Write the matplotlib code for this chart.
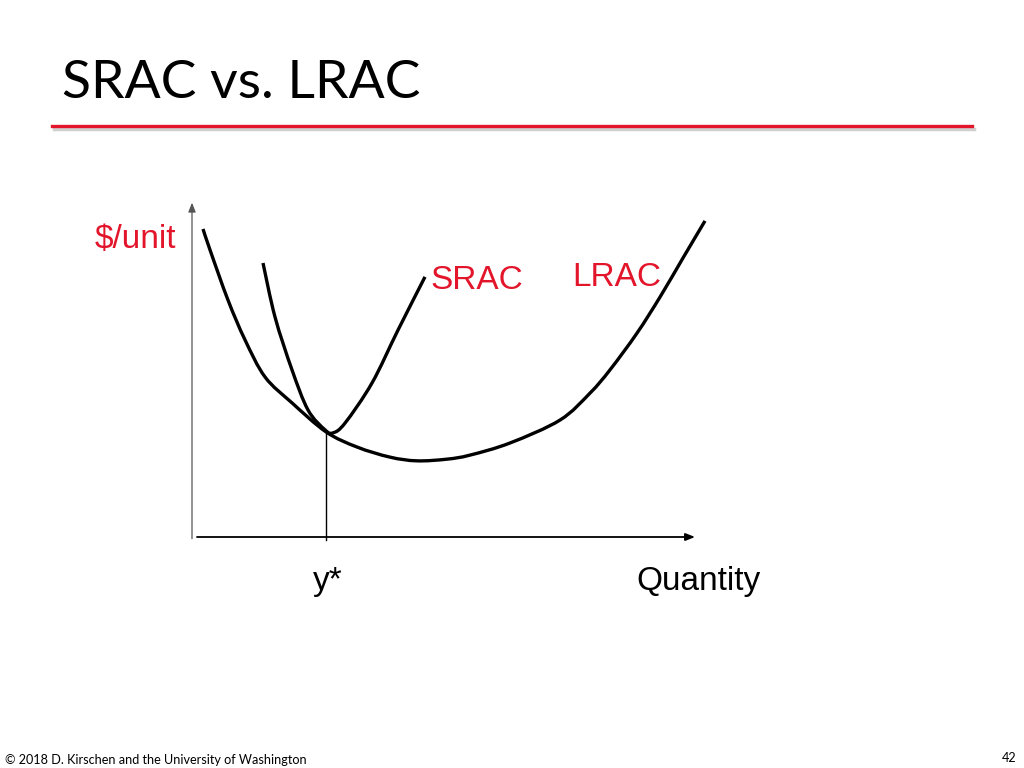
import matplotlib
matplotlib.use("Agg")
import matplotlib.pyplot as plt
from matplotlib.path import Path
from matplotlib.patches import PathPatch
from matplotlib.lines import Line2D
import numpy as np

# ---- data (arbitrary units) ----
lrac_q = [0.22, 0.36, 0.72, 1.06, 1.46, 2.00, 2.68, 3.30, 3.96, 4.50,
          5.10, 5.56, 6.36, 7.36, 7.96, 8.36, 8.90, 9.36, 9.82, 10.26]
lrac_cost = [9.14, 8.52, 7.03, 5.85, 4.75, 3.98, 3.12, 2.67, 2.37, 2.26,
             2.31, 2.43, 2.79, 3.47, 4.27, 4.96, 6.05, 7.12, 8.28, 9.38]
srac_q = [1.42, 1.66, 2.00, 2.32, 2.66, 2.82, 3.06, 3.60, 4.12, 4.66]
srac_cost = [8.13, 6.53, 4.96, 3.77, 3.18, 3.09, 3.38, 4.57, 6.14, 7.72]
y_star = 2.68
y_star_cost = 3.12

title = "SRAC vs. LRAC"
y_label = "$/unit"
x_label = "Quantity"
srac_label = "SRAC"
lrac_label = "LRAC"
ystar_label = "y*"
footer = "\u00a9 2018 D. Kirschen and the University of Washington"
page = "42"

RED = "#e3152b"
W, H = 1024, 768


def fx(px):
    return px / W


def fy(py):
    return 1 - py / H


def smooth_path(xs, ys):
    # cubic Bezier segments through the read points (Catmull-Rom style handles)
    pts = np.column_stack([xs, ys]).astype(float)
    n = len(pts)
    verts = [pts[0]]
    codes = [Path.MOVETO]
    for i in range(n - 1):
        p0 = pts[i - 1] if i > 0 else pts[i]
        p1 = pts[i]
        p2 = pts[i + 1]
        p3 = pts[i + 2] if i + 2 < n else pts[i + 1]
        c1 = p1 + (p2 - p0) / 6.0
        c2 = p2 - (p3 - p1) / 6.0
        verts += [c1, c2, p2]
        codes += [Path.CURVE4] * 3
    return Path(verts, codes)


fig = plt.figure(figsize=(10.24, 7.68), dpi=100)
fig.patch.set_facecolor("white")

# title and red rule with shadow
fig.text(fx(62), fy(98), title, fontsize=38.5, family="Lato",
         color="black", va="baseline", ha="left")
fig.add_artist(Line2D([fx(54), fx(974)], [fy(128.8), fy(128.8)],
                      color="#bbbbbb", lw=2.5, alpha=0.7,
                      transform=fig.transFigure))
fig.add_artist(Line2D([fx(52), fx(972)], [fy(125.5), fy(125.5)],
                      color=RED, lw=2.4, transform=fig.transFigure))

# chart axes: data x 0..10 -> px 192..692, data y 0..10 -> px 537..200
ax = fig.add_axes([fx(192), fy(537), (692 - 192) / W, (537 - 200) / H])
ax.set_xlim(0, 10)
ax.set_ylim(0, 10)
ax.axis("off")

# axes arrows
ax.annotate("", xy=(0, 9.92), xytext=(0, -0.05),
            arrowprops=dict(arrowstyle="-|>,head_length=0.55,head_width=0.22",
                            color="#555555", lw=0.9, shrinkA=0, shrinkB=0),
            annotation_clip=False)
ax.annotate("", xy=(10.06, 0), xytext=(0.1, 0),
            arrowprops=dict(arrowstyle="-|>,head_length=0.55,head_width=0.22",
                            color="black", lw=1.3, shrinkA=0, shrinkB=0),
            annotation_clip=False)

# y* guide line
ax.plot([y_star, y_star], [-0.1, y_star_cost], color="black", lw=1.0,
        clip_on=False)

# curves
for xs, ys in ((lrac_q, lrac_cost), (srac_q, srac_cost)):
    ax.add_patch(PathPatch(smooth_path(xs, ys), fill=False, edgecolor="black",
                           lw=2.4, capstyle="butt", joinstyle="round",
                           clip_on=False))

# labels
lab = dict(family="Liberation Sans", fontsize=24, va="baseline")
fig.text(fx(95), fy(248), y_label, color=RED, ha="left", **lab)
fig.text(fx(430), fy(289), srac_label, color=RED, ha="left", **lab)
fig.text(fx(572), fy(286), lrac_label, color=RED, ha="left", **lab)
fig.text(fx(328), fy(590), ystar_label, color="black", ha="center", **lab)
fig.text(fx(636), fy(590), x_label, color="black", ha="left", **lab)

# footer
fig.text(fx(5), fy(764), footer, family="Lato", fontsize=9.1,
         color="black", va="baseline", ha="left")
fig.text(fx(1016), fy(762), page, family="Lato", fontsize=9.1,
         color="black", va="baseline", ha="right")

fig.savefig("out.png", dpi=100, facecolor="white")
